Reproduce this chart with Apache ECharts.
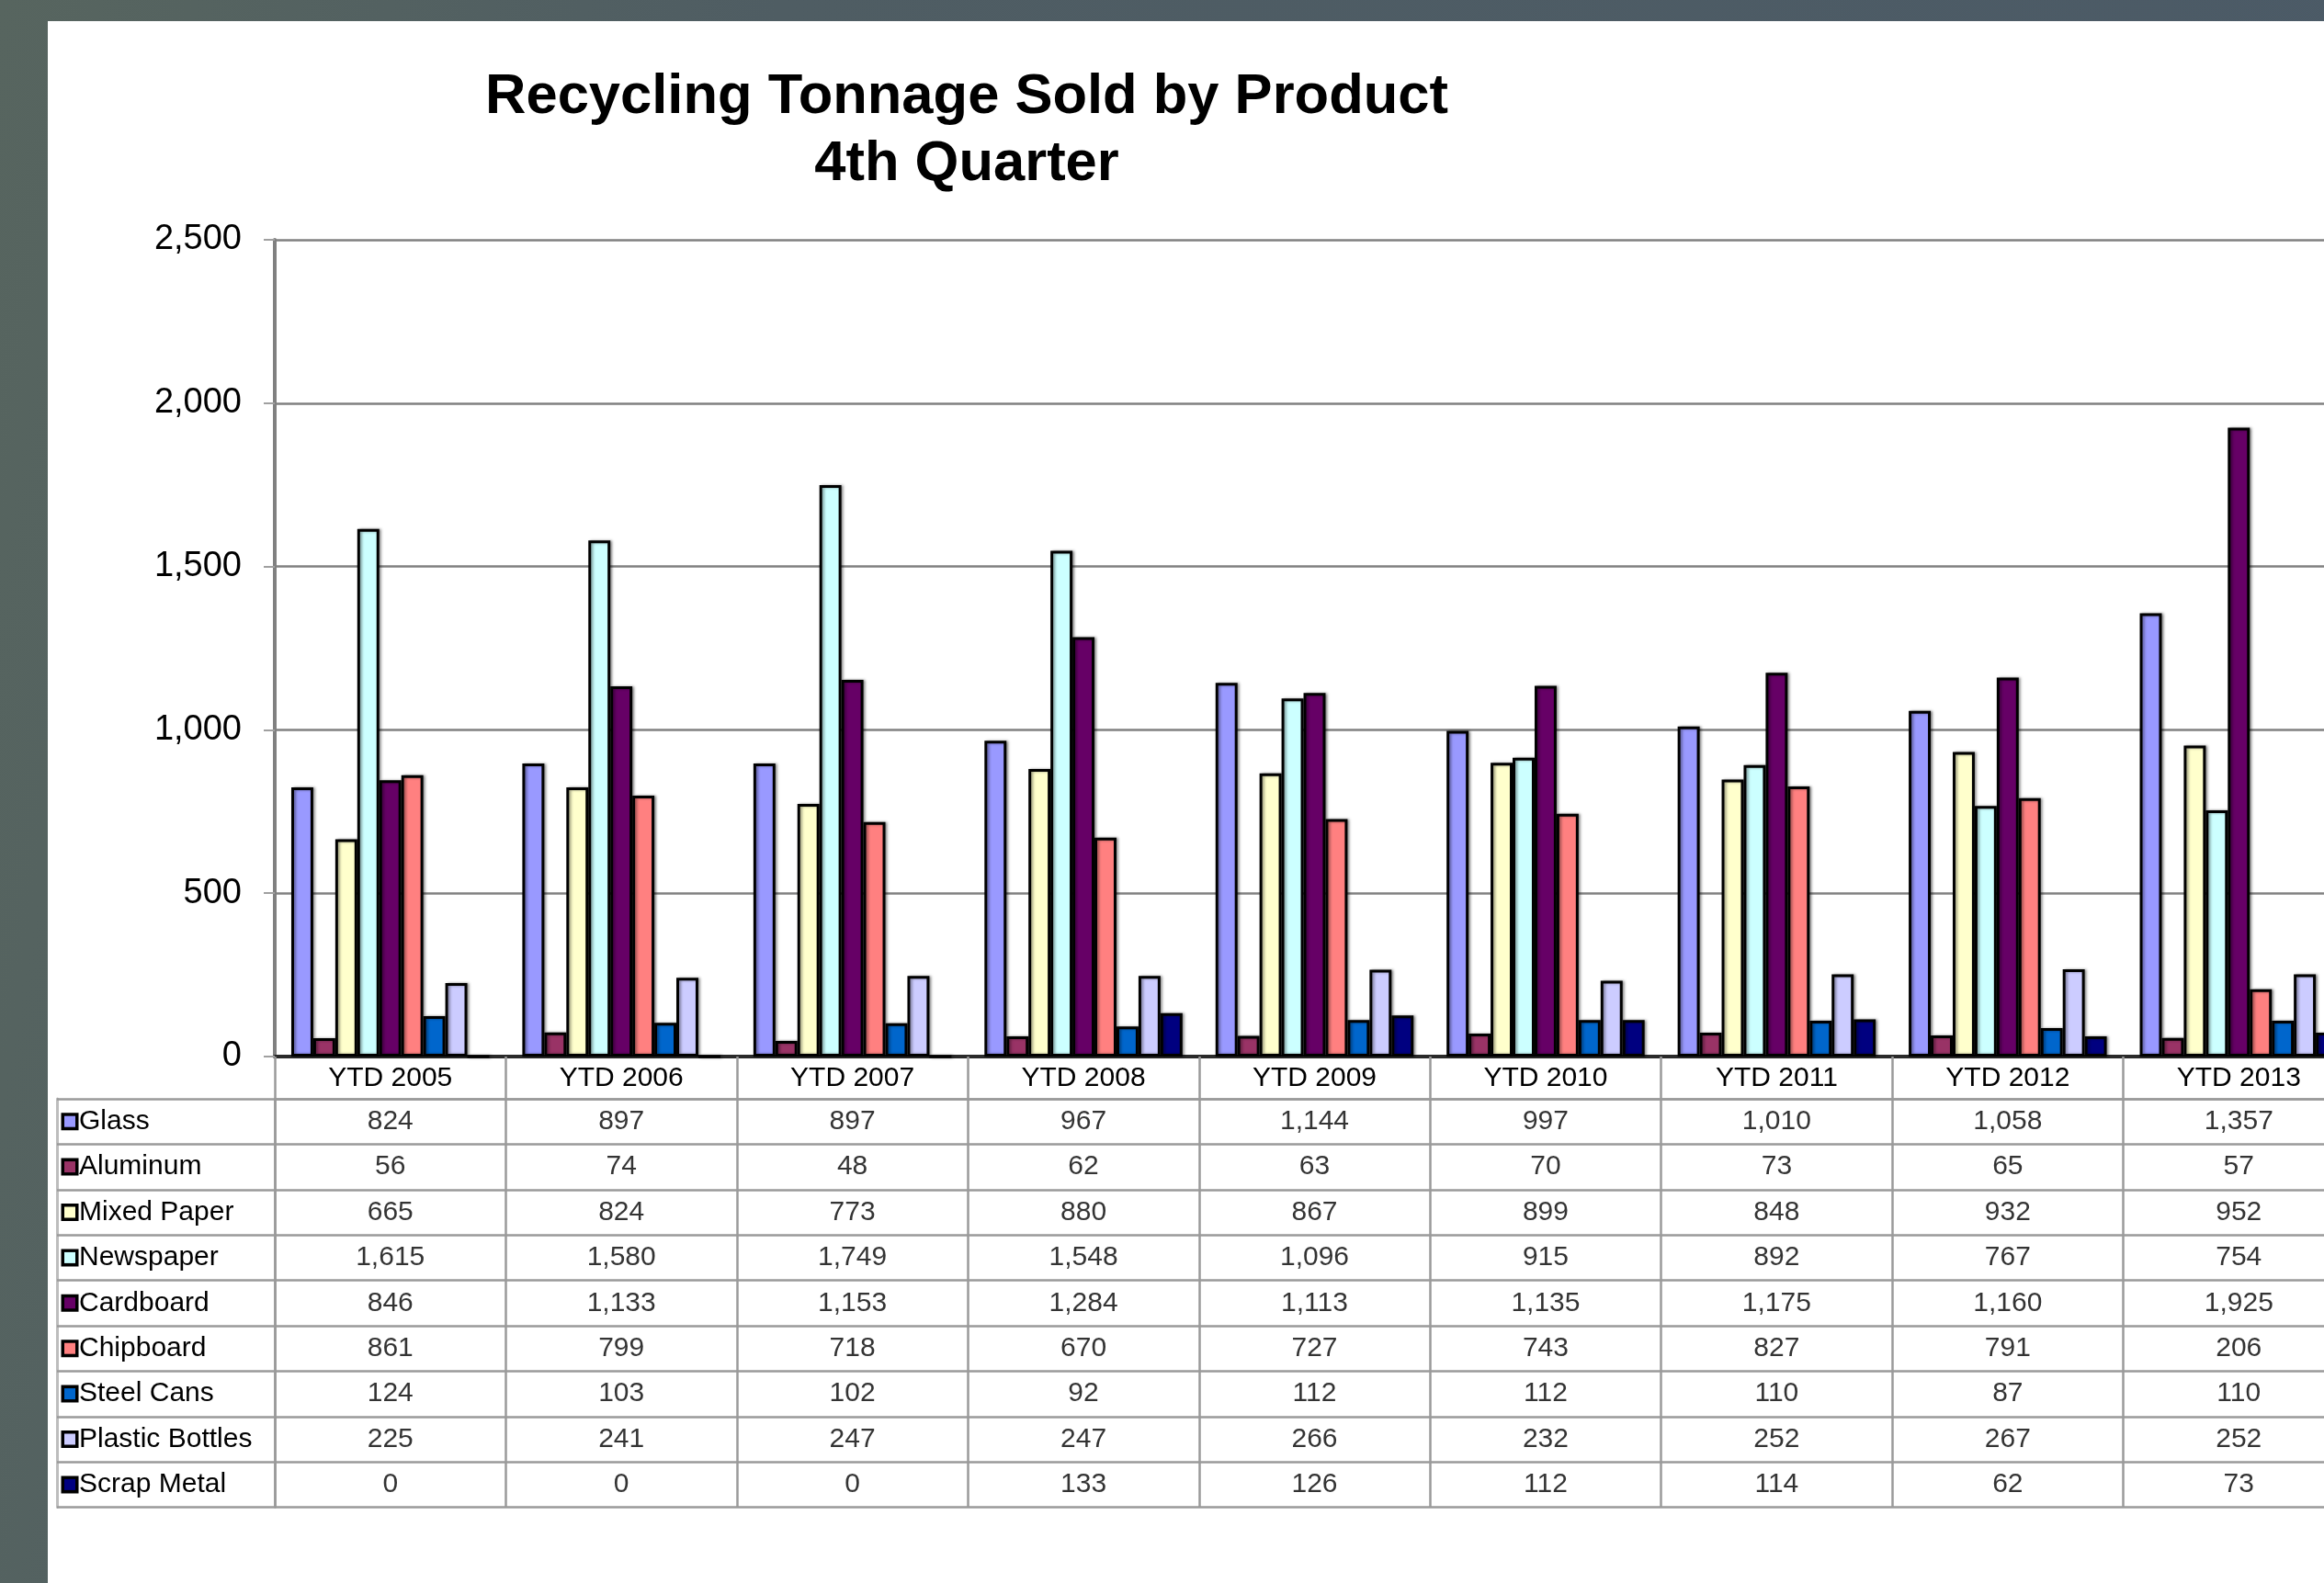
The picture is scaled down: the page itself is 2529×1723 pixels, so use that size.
<!DOCTYPE html>
<html>
<head>
<meta charset="utf-8">
<script src="https://cdn.jsdelivr.net/npm/echarts@6/dist/echarts.min.js"></script>
<style>
  html, body { margin: 0; padding: 0; width: 2529px; height: 1723px; overflow: hidden;
    background: linear-gradient(100deg, #57655f 0%, #4f5d63 30%, #4b5a67 100%); }
  #panel { position: absolute; left: 52px; top: 23px; width: 2477px; height: 1700px; background: #ffffff; }
  #chart { position: absolute; left: 0; top: 0; width: 2529px; height: 1723px; }
</style>
</head>
<body>
<div id="panel"></div>
<div id="chart"></div>
<script>
// ---- data ----
const categories = ['YTD 2005', 'YTD 2006', 'YTD 2007', 'YTD 2008', 'YTD 2009', 'YTD 2010', 'YTD 2011', 'YTD 2012', 'YTD 2013'];
const seriesNames = ['Glass', 'Aluminum', 'Mixed Paper', 'Newspaper', 'Cardboard', 'Chipboard', 'Steel Cans', 'Plastic Bottles', 'Scrap Metal'];
const glass          = [824, 897, 897, 967, 1144, 997, 1010, 1058, 1357];
const aluminum       = [56, 74, 48, 62, 63, 70, 73, 65, 57];
const mixedPaper     = [665, 824, 773, 880, 867, 899, 848, 932, 952];
const newspaper      = [1615, 1580, 1749, 1548, 1096, 915, 892, 767, 754];
const cardboard      = [846, 1133, 1153, 1284, 1113, 1135, 1175, 1160, 1925];
const chipboard      = [861, 799, 718, 670, 727, 743, 827, 791, 206];
const steelCans      = [124, 103, 102, 92, 112, 112, 110, 87, 110];
const plasticBottles = [225, 241, 247, 247, 266, 232, 252, 267, 252];
const scrapMetal     = [0, 0, 0, 133, 126, 112, 114, 62, 73];
const yMin = 0, yMax = 2500, yStep = 500;
const titleLines = ['Recycling Tonnage Sold by Product', '4th Quarter'];

// ---- styles ----
const colors = ['#9999FF', '#993366', '#FFFFCC', '#CCFFFF', '#660066', '#FF8080', '#0066CC', '#CCCCFF', '#000080'];
const FONT = 'Liberation Sans, Arial, sans-serif';
const allSeries = [glass, aluminum, mixedPaper, newspaper, cardboard, chipboard, steelCans, plasticBottles, scrapMetal];
const fmt = v => Number(v).toLocaleString('en-US');

const chart = echarts.init(document.getElementById('chart'), null, { renderer: 'canvas' });

const barSeries = allSeries.map((vals, i) => ({
  name: seriesNames[i],
  type: 'bar',
  xAxisIndex: 0, yAxisIndex: 0,
  data: vals,
  barGap: '0%',
  barCategoryGap: '14.3%',
  itemStyle: {
    color: colors[i],
    borderColor: '#000',
    borderWidth: 3,
    shadowColor: 'rgba(0,0,0,0.4)',
    shadowBlur: 3,
    shadowOffsetX: 2,
    shadowOffsetY: 0
  },
  emphasis: { disabled: true },
  animation: false
}));

// table cells
const cellData = [];
allSeries.forEach((vals, r) => vals.forEach((v, c) => cellData.push([c, r, v])));

const rich = { t: { fontSize: 30, fontFamily: FONT, color: '#000', padding: [0, 0, 0, 4] } };
colors.forEach((col, i) => {
  rich['m' + i] = { width: 12, height: 12, backgroundColor: col, borderColor: '#000', borderWidth: 3.5 };
});

const option = {
  animation: false,
  title: {
    text: titleLines.join('\n'),
    left: 1047,
    top: 65,
    textAlign: 'center',
    textStyle: { fontSize: 61.5, fontWeight: 'bold', fontFamily: FONT, color: '#000', lineHeight: 73 }
  },
  grid: [
    { left: 299, top: 261, width: 2263, height: 889, containLabel: false, outerBoundsMode: 'none' },
    { left: 299, top: 1196, width: 2263, height: 444.6, containLabel: false, outerBoundsMode: 'none' }
  ],
  xAxis: [
    {
      gridIndex: 0, type: 'category', data: categories,
      axisLine: { show: true, lineStyle: { color: '#2a2a2a', width: 4 } },
      axisTick: { show: true, interval: 0, length: 46, lineStyle: { color: '#9a9a9a', width: 2.5 } },
      axisLabel: { interval: 0, margin: 9, fontSize: 30, lineHeight: 30, fontFamily: FONT, color: '#000' },
      splitLine: { show: false }
    },
    {
      gridIndex: 1, type: 'category', data: categories, position: 'top',
      axisLine: { show: true, lineStyle: { color: '#9a9a9a', width: 2.5 } },
      axisTick: { show: false }, axisLabel: { show: false },
      splitLine: { show: true, interval: 0, lineStyle: { color: '#9a9a9a', width: 2.5 } }
    }
  ],
  yAxis: [
    {
      gridIndex: 0, type: 'value', min: yMin, max: yMax, interval: yStep,
      axisLine: { show: true, lineStyle: { color: '#808080', width: 4 } },
      axisTick: { show: true, length: 12, lineStyle: { color: '#a0a0a0', width: 2 } },
      axisLabel: { margin: 36, fontSize: 38, fontFamily: FONT, color: '#000', formatter: v => fmt(v) },
      splitLine: { show: true, lineStyle: { color: '#808080', width: 2.5 } }
    },
    {
      gridIndex: 1, type: 'category', data: seriesNames, inverse: true,
      axisLine: { show: true, lineStyle: { color: '#9a9a9a', width: 2.5 } },
      axisTick: { show: true, interval: 0, length: 237, lineStyle: { color: '#9a9a9a', width: 2.5 } },
      axisLabel: {
        interval: 0, align: 'left', margin: 229,
        formatter: (v, i) => '{m' + i + '|}{t|' + v + '}',
        rich: rich
      },
      splitLine: { show: true, interval: 0, lineStyle: { color: '#9a9a9a', width: 2.5 } }
    },
    {
      gridIndex: 1, type: 'category', data: seriesNames, inverse: true, position: 'left', offset: 237,
      axisLine: { show: true, lineStyle: { color: '#bdbdbd', width: 3 } },
      axisTick: { show: false }, axisLabel: { show: false }, splitLine: { show: false }
    }
  ],
  series: barSeries.concat([{
    type: 'scatter',
    xAxisIndex: 1, yAxisIndex: 1,
    data: cellData,
    symbolSize: 1,
    itemStyle: { color: 'rgba(0,0,0,0)' },
    silent: true,
    label: {
      show: true, position: 'inside',
      formatter: p => fmt(p.value[2]),
      fontSize: 30, fontFamily: FONT, color: '#000'
    }
  }])
};
chart.setOption(option);
</script>
</body>
</html>
